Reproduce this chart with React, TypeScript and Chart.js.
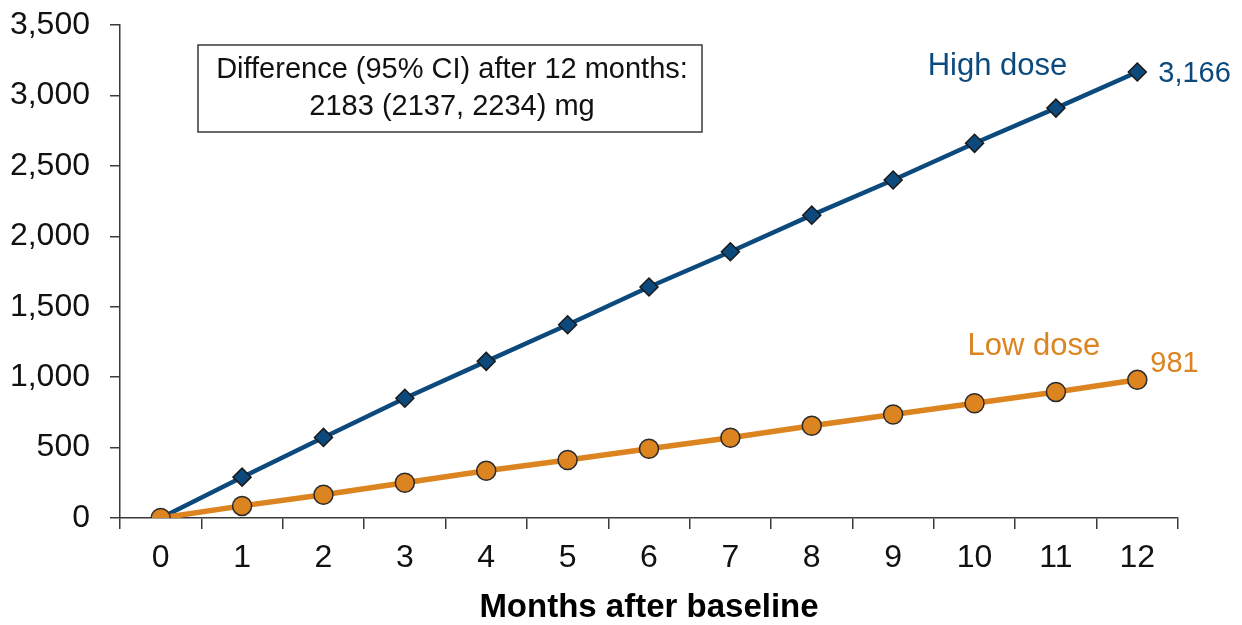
import React, { useEffect, useRef } from "react";
import { Chart, registerables } from "chart.js";

Chart.register(...registerables);

// Cumulative dose (mg) by month after baseline
const months = ["0", "1", "2", "3", "4", "5", "6", "7", "8", "9", "10", "11", "12"];
const highDose = [0, 290, 572, 850, 1112, 1372, 1640, 1890, 2150, 2400, 2660, 2910, 3166];
const lowDose = [0, 86, 165, 250, 335, 412, 492, 570, 655, 735, 815, 895, 981];

const yMin = 0;
const yMax = 3500;
const yStep = 500;

const highLabel = "High dose";
const lowLabel = "Low dose";
const highEndLabel = "3,166";
const lowEndLabel = "981";
const noteLines = ["Difference (95% CI) after 12 months:", "2183 (2137, 2234) mg"];
const xTitle = "Months after baseline";

const BLUE = "#0c4a7e";
const ORANGE = "#db8420";
const AXIS = "#3a3a3a";
const FONT = "'Liberation Sans', Arial, Helvetica, sans-serif";

const annotations = {
  id: "doseAnnotations",
  afterDraw(chart: any) {
    const { ctx, scales } = chart;
    const xs = scales.x;
    const ys = scales.y;
    const last = months.length - 1;
    const px = xs.getPixelForValue(last);

    ctx.save();
    ctx.textBaseline = "alphabetic";

    // series names
    ctx.font = `31px ${FONT}`;
    ctx.textAlign = "right";
    ctx.fillStyle = BLUE;
    ctx.fillText(highLabel, px - 70, ys.getPixelForValue(3145));
    ctx.fillStyle = ORANGE;
    ctx.fillText(lowLabel, px - 37, ys.getPixelForValue(1157));

    // end-point values
    ctx.font = `29px ${FONT}`;
    ctx.textAlign = "left";
    ctx.fillStyle = BLUE;
    ctx.fillText(highEndLabel, px + 21, ys.getPixelForValue(highDose[last]) + 10);
    ctx.fillStyle = ORANGE;
    ctx.fillText(lowEndLabel, px + 13, ys.getPixelForValue(lowDose[last]) - 8);

    // difference note box
    const area = chart.chartArea;
    const bx = area.left + 78;
    const by = area.top + 20;
    const bw = 504;
    const bh = 87;
    ctx.lineWidth = 1.5;
    ctx.strokeStyle = AXIS;
    ctx.fillStyle = "#ffffff";
    ctx.fillRect(bx, by, bw, bh);
    ctx.strokeRect(bx, by, bw, bh);
    ctx.fillStyle = "#111111";
    ctx.font = `29px ${FONT}`;
    ctx.textAlign = "center";
    ctx.fillText(noteLines[0], bx + bw / 2 + 2, by + 33);
    ctx.fillText(noteLines[1], bx + bw / 2 + 2, by + 70);
    ctx.restore();
  },
};

export default function App() {
  const canvasRef = useRef<HTMLCanvasElement | null>(null);

  useEffect(() => {
    const canvas = canvasRef.current;
    if (!canvas) return;
    const chart = new Chart(canvas, {
      type: "line",
      data: {
        labels: months,
        datasets: [
          {
            label: lowLabel,
            data: lowDose,
            order: 0,
            borderColor: ORANGE,
            borderWidth: 5.5,
            backgroundColor: ORANGE,
            pointStyle: "circle",
            pointRadius: 9.5,
            pointBackgroundColor: ORANGE,
            pointBorderColor: "#2b2b2b",
            pointBorderWidth: 1.5,
            tension: 0,
          },
          {
            label: highLabel,
            data: highDose,
            order: 1,
            borderColor: BLUE,
            borderWidth: 4.5,
            backgroundColor: BLUE,
            pointStyle: "rectRot",
            pointRadius: 9,
            pointBackgroundColor: BLUE,
            pointBorderColor: "#1a1a1a",
            pointBorderWidth: 1.5,
            tension: 0,
          },
        ],
      },
      options: {
        responsive: true,
        maintainAspectRatio: false,
        animation: false,
        layout: { padding: { top: 25, right: 64, left: 0, bottom: 0 } },
        plugins: {
          legend: { display: false },
          tooltip: { enabled: false },
        },
        scales: {
          x: {
            type: "category",
            offset: true,
            grid: {
              display: true,
              offset: true,
              drawOnChartArea: false,
              drawTicks: true,
              tickLength: 11,
              color: AXIS,
              lineWidth: 1.5,
            },
            border: { display: true, color: AXIS, width: 1.5 },
            ticks: {
              color: "#111111",
              font: { family: FONT, size: 32 },
              padding: 10,
              maxRotation: 0,
              autoSkip: false,
            },
            title: {
              display: true,
              text: xTitle,
              color: "#000000",
              font: { family: FONT, size: 33, weight: "bold", lineHeight: 1 },
              padding: { top: 0, bottom: 1 },
            },
            afterFit(scale: any) {
              scale.height = 107;
            },
          },
          y: {
            min: yMin,
            max: yMax,
            grid: {
              display: true,
              drawOnChartArea: false,
              drawTicks: true,
              tickLength: 10,
              color: AXIS,
              lineWidth: 1.5,
            },
            border: { display: true, color: AXIS, width: 1.5 },
            ticks: {
              stepSize: yStep,
              color: "#111111",
              font: { family: FONT, size: 32 },
              padding: 20,
              callback: (v: any) => Number(v).toLocaleString("en-US"),
            },
            afterFit(scale: any) {
              scale.width = 120;
              scale.paddingTop = 0;
            },
          },
        },
      },
      plugins: [annotations],
    });
    return () => chart.destroy();
  }, []);

  return (
    <div style={{ position: "fixed", left: 0, top: 0, width: 1242, height: 625, background: "#ffffff" }}>
      <canvas ref={canvasRef} />
    </div>
  );
}
